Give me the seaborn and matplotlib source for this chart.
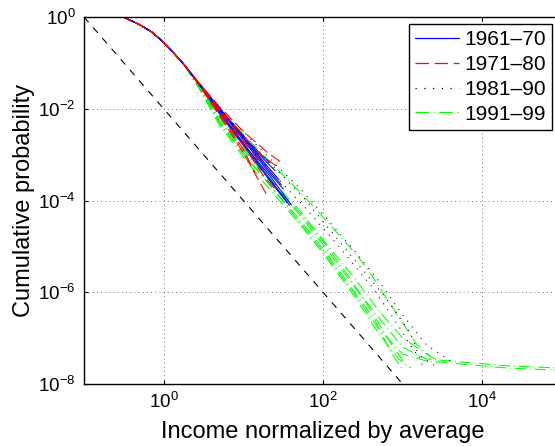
import numpy as np
import pandas as pd
import matplotlib
matplotlib.use("Agg")
import matplotlib.pyplot as plt
from matplotlib.lines import Line2D
import seaborn as sns

# ---------------- data ----------------
decades = ["1961\u201370", "1971\u201380", "1981\u201390", "1991\u201399"]

# shared upper part of every curve
head_x = [0.18, 0.32, 0.5, 0.71, 1.0, 1.4, 1.8]
head_p = [1.0, 0.98, 0.68, 0.47, 0.28, 0.15, 0.092]

# 1961-70
b1_x = [2.8, 5, 10, 21];            b1_p = [0.035, 0.0105, 0.0025, 6.8e-4]
b2_x = [2.8, 5, 10, 20, 31.6];      b2_p = [0.034, 0.00955, 0.0021, 4.5e-4, 1.8e-4]
b3_x = [2.8, 5, 10, 20, 38];        b3_p = [0.034, 0.0087, 0.0018, 3.5e-4, 7.9e-5]
b4_x = [2.8, 5, 10, 20, 35.5];      b4_p = [0.033, 0.0079, 0.0016, 3.2e-4, 8.9e-5]
b5_x = [2.8, 5, 10, 17.8, 28.2];    b5_p = [0.035, 0.01, 0.0024, 7.1e-4, 2.8e-4]
b6_x = [2.8, 5, 10, 20, 30];        b6_p = [0.036, 0.0098, 0.0023, 5e-4, 2.2e-4]
b7_x = [2.8, 5, 10, 22, 40];        b7_p = [0.033, 0.0083, 0.0017, 3.3e-4, 8e-5]
b8_x = [2.8, 5, 10, 15, 25];        b8_p = [0.035, 0.0102, 0.0026, 0.0011, 4.5e-4]

# 1971-80
r1_x = [2.8, 5, 10, 20, 28.8];      r1_p = [0.036, 0.0112, 0.0032, 0.00112, 7.1e-4]
r2_x = [2.8, 5, 10, 17.8, 26.3];    r2_p = [0.035, 0.01, 0.0025, 8.9e-4, 5.6e-4]
r3_x = [2.8, 5, 10, 20];            r3_p = [0.032, 0.0071, 0.0011, 1.26e-4]
r4_x = [2.8, 5, 10, 17.8, 25];      r4_p = [0.033, 0.0083, 0.0016, 3.5e-4, 1.78e-4]
r5_x = [2.8, 5, 10, 15.8];          r5_p = [0.034, 0.0093, 0.002, 7.1e-4]
r6_x = [2.8, 5, 10, 14];            r6_p = [0.033, 0.0078, 0.0013, 4e-4]

# 1981-90
d1_x = [2.8, 5, 10, 25, 56, 100, 251, 525, 1000, 1995, 3981]
d1_p = [0.035, 0.0105, 0.0032, 6.3e-4, 1.58e-4, 5e-5, 7.9e-6, 1.58e-6, 3.2e-7, 7.1e-8, 3.16e-8]
d2_x = [2.8, 5, 10, 25, 56, 100, 251, 631, 1259, 1778]
d2_p = [0.034, 0.01, 0.0026, 5e-4, 1.2e-4, 3.5e-5, 5e-6, 7.1e-7, 1.26e-7, 2.5e-8]
d3_x = [2.8, 5, 10, 25, 63, 158, 398, 794, 1413, 2512]
d3_p = [0.034, 0.0089, 0.002, 3.5e-4, 6.3e-5, 1e-5, 1.41e-6, 2.5e-7, 5e-8, 2.5e-8]

# 1991-99
g1_x = [2.8, 5, 10, 20, 40, 63, 126, 269, 398, 759, 1514, 2239]
g1_p = [0.034, 0.01, 0.0028, 7.9e-4, 2.4e-4, 1.05e-4, 2.8e-5, 6.3e-6, 2.5e-6, 4.5e-7, 7.1e-8, 4.0e-8]
g2_x = [2.8, 5, 10, 21.4, 50, 100, 240, 501, 1000, 1995, 5754, 19953, 89125]
g2_p = [0.03, 0.0056, 0.00126, 2.8e-4, 5e-5, 1.12e-5, 1.41e-6, 2.8e-7, 6.3e-8, 3.5e-8, 3e-8, 2.5e-8, 2.24e-8]
g3_x = [2.8, 5, 10, 21.4, 50, 100, 240, 501, 1000, 1995, 5754, 19953, 89125]
g3_p = [0.028, 0.005, 0.001, 2.24e-4, 3.5e-5, 7.9e-6, 1e-6, 1.58e-7, 4.5e-8, 3.16e-8, 2.7e-8, 2.24e-8, 2.0e-8]
g4_x = [2.8, 5, 10, 20, 50, 100, 251, 501, 891, 1259]
g4_p = [0.027, 0.00447, 8.9e-4, 2e-4, 3.2e-5, 7.1e-6, 7.9e-7, 1.26e-7, 3.5e-8, 2.24e-8]
g5_x = [2.8, 5, 10, 20, 50, 100, 251, 501, 1000, 1995, 3162]
g5_p = [0.032, 0.0071, 0.00158, 3.5e-4, 6.3e-5, 1.4e-5, 2e-6, 4e-7, 1e-7, 4.5e-8, 2.8e-8]
g6_x = [2.8, 5, 10, 20, 50, 100, 251, 447, 708, 1000]
g6_p = [0.029, 0.00525, 0.00112, 2.5e-4, 4e-5, 8.9e-6, 1e-6, 2.5e-7, 5e-8, 2e-8]
g7_x = [2.8, 5, 10, 20, 50, 100, 200, 400, 700, 1100]
g7_p = [0.031, 0.0063, 0.0014, 3.1e-4, 5.6e-5, 1.3e-5, 2.5e-6, 4e-7, 8e-8, 2.6e-8]

# reference power-law line
ref_x = [0.1, 1000]
ref_p = [1.0, 1e-8]

# ---------------- assemble long-form table ----------------
curves = [
    (decades[0], "b1", b1_x, b1_p), (decades[0], "b2", b2_x, b2_p),
    (decades[0], "b3", b3_x, b3_p), (decades[0], "b4", b4_x, b4_p),
    (decades[0], "b5", b5_x, b5_p), (decades[0], "b6", b6_x, b6_p),
    (decades[0], "b7", b7_x, b7_p), (decades[0], "b8", b8_x, b8_p),
    (decades[1], "r1", r1_x, r1_p), (decades[1], "r2", r2_x, r2_p),
    (decades[1], "r3", r3_x, r3_p), (decades[1], "r4", r4_x, r4_p),
    (decades[1], "r5", r5_x, r5_p), (decades[1], "r6", r6_x, r6_p),
    (decades[2], "d1", d1_x, d1_p), (decades[2], "d2", d2_x, d2_p),
    (decades[2], "d3", d3_x, d3_p),
    (decades[3], "g1", g1_x, g1_p), (decades[3], "g2", g2_x, g2_p),
    (decades[3], "g3", g3_x, g3_p), (decades[3], "g4", g4_x, g4_p),
    (decades[3], "g5", g5_x, g5_p), (decades[3], "g6", g6_x, g6_p),
    (decades[3], "g7", g7_x, g7_p),
]
rows = []
for dec, cid, xs, ps in curves:
    for i, (x, p) in enumerate(zip(head_x + xs, head_p + ps)):
        rows.append({"decade": dec, "curve": cid, "order": i, "x": x, "p": p})
df = pd.DataFrame(rows)

# ---------------- styling ----------------
sns.set_style("ticks")
plt.rcParams["font.family"] = ["Liberation Sans", "DejaVu Sans"]
plt.rcParams["mathtext.fontset"] = "custom"
plt.rcParams["mathtext.rm"] = "Liberation Sans"
plt.rcParams["mathtext.it"] = "Liberation Sans:italic"
plt.rcParams["mathtext.bf"] = "Liberation Sans:bold"
plt.rcParams["text.color"] = "black"
plt.rcParams["axes.labelcolor"] = "black"
plt.rcParams["xtick.color"] = "black"
plt.rcParams["ytick.color"] = "black"

palette = {decades[0]: (0, 0, 1), decades[1]: (1, 0, 0),
           decades[2]: (0, 0, 0), decades[3]: (0, 1, 0)}
dashes = {decades[0]: "", decades[1]: (10.8, 4.5),
          decades[2]: (1, 6), decades[3]: (10.8, 3.6, 1, 3.6)}

fig = plt.figure(figsize=(5.55, 4.46), dpi=100)
ax = fig.add_axes([84 / 555, (446 - 384) / 446, 478 / 555, 367 / 446])

draw_order = [decades[3], decades[2], decades[0], decades[1]]
for dec in draw_order:
    sub = df[df["decade"] == dec]
    sns.lineplot(data=sub, x="x", y="p", hue="decade", style="decade",
                 units="curve", estimator=None, sort=False,
                 palette=palette, dashes=dashes, lw=0.75,
                 legend=False, ax=ax)

ref_df = pd.DataFrame({"x": ref_x, "p": ref_p})
sns.lineplot(data=ref_df, x="x", y="p", color="black", lw=0.8,
             dashes=False, ax=ax, legend=False)
ax.lines[-1].set_dashes((6.3, 6.3))

ax.set_xscale("log")
ax.set_yscale("log")
ax.set_xlim(0.1, 1e5)
ax.set_ylim(1e-8, 1)
ax.set_xticks([1, 1e2, 1e4])
ax.set_yticks([1e-8, 1e-6, 1e-4, 1e-2, 1])
ax.minorticks_off()
ax.tick_params(direction="in", length=3, width=0.8, top=True, right=True,
               labelsize=13.5, pad=6, colors="black")
ax.grid(True, which="major", color="#444444", linestyle=(0, (1, 4)), lw=0.6)
for s in ax.spines.values():
    s.set_linewidth(1.0)
    s.set_color("black")

ax.set_xlabel("Income normalized by average", fontsize=17, labelpad=6,
              color="black")
ax.set_ylabel("Cumulative probability", fontsize=17, labelpad=2,
              color="black")

handles = [Line2D([], [], color=palette[d], lw=0.9, dashes=dashes[d]) for d in decades]
leg = ax.legend(handles, decades, loc="upper right",
                bbox_to_anchor=(552 / 555, 1 - 24 / 446),
                bbox_transform=fig.transFigure, borderaxespad=0,
                fontsize=15, frameon=True, fancybox=False, framealpha=1,
                handlelength=2.1, handletextpad=0.25, labelspacing=0.28,
                borderpad=0.3)
for t in leg.get_texts():
    t.set_color("black")
leg.get_frame().set_edgecolor("black")
leg.get_frame().set_linewidth(1.0)

fig.savefig("out.png", dpi=100)
